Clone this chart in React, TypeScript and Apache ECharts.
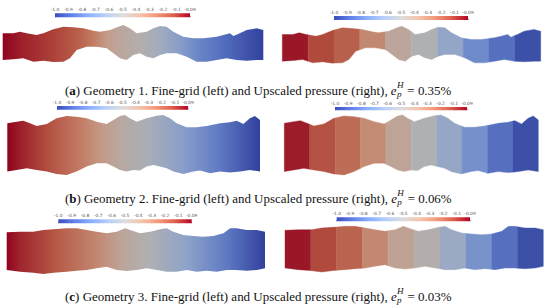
import React, { useEffect, useRef } from 'react';
import * as echarts from 'echarts';

// ---------- data ----------
const cbLabels = ['-1.0', '-0.9', '-0.8', '-0.7', '-0.6', '-0.5', '-0.4', '-0.3', '-0.2', '-0.1', '-0.09'];
const pMin = -1.0;
const pMax = -0.09;

// channel walls: [position along channel (0-10), wall height]
const geo1Top = [[0, 90], [0.41, 90], [0.66, 95], [0.92, 90], [1.3, 85], [1.56, 90], [1.94, 102], [2.33, 110], [2.71, 108], [3.09, 105], [3.48, 98], [3.73, 95], [4.12, 100], [4.44, 110], [4.63, 115], [4.88, 105], [5.14, 90], [5.52, 95], [5.78, 105], [6.04, 112], [6.29, 110], [6.55, 95], [6.93, 80], [7.31, 75], [7.7, 75], [8.21, 80], [8.47, 85], [8.72, 90], [8.85, 82], [9.1, 90], [9.36, 100], [9.74, 105], [10, 100]];
const geo1Bottom = [[0, 10], [0.41, 12], [0.79, 15], [1.18, 5], [1.56, 8], [1.94, 4], [2.33, 5], [2.58, 15], [2.84, 40], [3.22, 50], [3.61, 50], [3.99, 45], [4.25, 30], [4.5, 15], [4.76, 10], [5.01, 25], [5.27, 30], [5.52, 20], [5.78, 15], [6.04, 25], [6.29, 30], [6.68, 30], [7.06, 20], [7.44, 5], [7.83, 5], [8.21, 10], [8.59, 15], [8.98, 10], [9.36, 8], [9.74, 10], [10, 10]];

const geo2Top = [[0, 160], [0.37, 165], [0.63, 168], [0.9, 160], [1.16, 152], [1.56, 158], [1.95, 175], [2.35, 182], [2.74, 180], [3.14, 175], [3.54, 165], [3.93, 158], [4.2, 170], [4.46, 182], [4.66, 185], [4.85, 175], [5.12, 165], [5.51, 175], [5.91, 183], [6.17, 185], [6.44, 175], [6.7, 160], [7.1, 148], [7.49, 148], [7.89, 152], [8.42, 160], [8.81, 163], [9.08, 168], [9.34, 158], [9.6, 175], [9.8, 182], [10, 170]];
const geo2Bottom = [[0, 15], [0.37, 20], [0.77, 25], [1.16, 20], [1.56, 15], [1.95, 8], [2.35, 5], [2.74, 15], [3.14, 30], [3.54, 40], [3.93, 40], [4.2, 30], [4.46, 20], [4.72, 15], [4.99, 20], [5.25, 18], [5.51, 30], [5.78, 35], [6.04, 30], [6.31, 25], [6.57, 15], [6.97, 8], [7.36, 15], [7.63, 18], [8.02, 10], [8.42, 15], [8.81, 12], [9.21, 15], [9.6, 20], [10, 15]];

const geo3Top = [[0, 128], [0.52, 130], [1.03, 130], [1.42, 135], [1.81, 137], [2.32, 140], [2.71, 140], [3.1, 135], [3.48, 130], [3.87, 125], [4.26, 130], [4.58, 140], [4.77, 135], [5.16, 125], [5.55, 130], [5.94, 137], [6.19, 140], [6.45, 130], [6.84, 120], [7.23, 117], [7.61, 115], [8.0, 117], [8.39, 125], [8.65, 140], [8.9, 140], [9.29, 135], [9.68, 135], [10, 130]];
const geo3Bottom = [[0, 15], [0.52, 10], [1.03, 7], [1.42, 3], [1.81, 7], [2.32, 10], [2.71, 13], [3.1, 15], [3.48, 20], [3.87, 25], [4.26, 15], [4.65, 12], [5.03, 15], [5.42, 20], [5.81, 15], [6.19, 10], [6.58, 10], [6.97, 15], [7.35, 10], [7.74, 13], [8.13, 10], [8.52, 15], [8.9, 15], [9.29, 13], [9.68, 15], [10, 20]];

// fine-grid pressure samples: [position, pressure]
const fine1 = [[0, -0.09], [0.66, -0.13], [1.8, -0.18], [2.8, -0.24], [3.5, -0.32], [4.0, -0.43], [4.4, -0.48], [5.3, -0.53], [6.0, -0.6], [6.8, -0.7], [7.6, -0.8], [8.6, -0.88], [10, -0.99]];
const fine2 = [[0, -0.09], [0.5, -0.13], [1.7, -0.22], [3.0, -0.33], [3.7, -0.42], [4.5, -0.5], [5.6, -0.58], [7.0, -0.7], [8.3, -0.82], [10, -0.99]];
const fine3 = [[0, -0.09], [0.5, -0.14], [2.0, -0.24], [3.5, -0.36], [4.5, -0.48], [5.5, -0.55], [7.0, -0.68], [8.5, -0.83], [10, -0.99]];

// upscaled block pressures (10 blocks)
const blocks1 = [-0.12, -0.2, -0.25, -0.36, -0.48, -0.55, -0.66, -0.78, -0.86, -0.95];
const blocks2 = [-0.13, -0.22, -0.28, -0.37, -0.47, -0.55, -0.65, -0.76, -0.86, -0.95];
const blocks3 = [-0.12, -0.2, -0.26, -0.36, -0.46, -0.53, -0.63, -0.75, -0.86, -0.95];

const captionLetters = ['a', 'b', 'c'];
const captionGeometries = ['1', '2', '3'];
const captionErrors = ['0.35%', '0.06%', '0.03%'];

// ---------- colour map (ParaView cool to warm) ----------
const coolWarm: [number, number[]][] = [
  [0, [59, 76, 192]], [0.125, [98, 130, 234]], [0.25, [141, 176, 254]], [0.375, [184, 208, 249]],
  [0.5, [221, 221, 221]], [0.625, [245, 196, 173]], [0.75, [244, 154, 123]], [0.875, [222, 96, 77]], [1, [180, 4, 38]],
];
function cmapT(t: number, shade = 1) {
  t = Math.max(0, Math.min(1, t));
  let i = 0;
  while (i < coolWarm.length - 2 && t > coolWarm[i + 1][0]) i++;
  const [t0, c0] = coolWarm[i];
  const [t1, c1] = coolWarm[i + 1];
  const f = (t - t0) / (t1 - t0);
  const c = c0.map((v, k) => Math.round((v + (c1[k] - v) * f) * shade));
  return `rgb(${c[0]},${c[1]},${c[2]})`;
}
const cmap = (p: number, shade = 1) => cmapT((p - pMin) / (pMax - pMin), shade);
const SHADE = 0.8;

function interp(pts: number[][], u: number) {
  for (let i = 0; i < pts.length - 1; i++) {
    const [x0, y0] = pts[i];
    const [x1, y1] = pts[i + 1];
    if (u >= x0 && u <= x1) return y0 + ((y1 - y0) * (u - x0)) / (x1 - x0 || 1);
  }
  return pts[pts.length - 1][1];
}
function section(top: number[][], bot: number[][], u0: number, u1: number) {
  const t: number[][] = [[u0, interp(top, u0)]];
  top.forEach((p) => { if (p[0] > u0 && p[0] < u1) t.push(p); });
  t.push([u1, interp(top, u1)]);
  const b: number[][] = [[u0, interp(bot, u0)]];
  bot.forEach((p) => { if (p[0] > u0 && p[0] < u1) b.push(p); });
  b.push([u1, interp(bot, u1)]);
  return t.concat(b.reverse());
}

// ---------- layout ----------
const chanGrids = [
  { left: 2.7, top: 23.3, width: 260.6, height: 40, yMax: 120 },
  { left: 282.3, top: 24.5, width: 258.4, height: 40, yMax: 120 },
  { left: 7.3, top: 113.3, width: 252.7, height: 63.3, yMax: 190 },
  { left: 284.3, top: 113.3, width: 254, height: 63.3, yMax: 190 },
  { left: 6.7, top: 226.7, width: 258.3, height: 48.3, yMax: 145 },
  { left: 285, top: 224.7, width: 258.3, height: 48.3, yMax: 145 },
];
const cbGrids = [
  { left: 55, top: 13.3, width: 135, height: 4 },
  { left: 334, top: 16, width: 134, height: 4 },
  { left: 57, top: 106, width: 131, height: 3.7 },
  { left: 335, top: 107, width: 132, height: 3.2 },
  { left: 58.3, top: 219.3, width: 133.4, height: 4 },
  { left: 336.7, top: 217.3, width: 133.3, height: 4 },
];
const captionY = [90, 198, 296];
const captionLeft = 65;
const captionWidth = 387;
const SERIF = '"Liberation Serif", "Times New Roman", serif';

function buildCaption(letter: string, geo: string, err: string, y: number) {
  const ctx = document.createElement('canvas').getContext('2d')!;
  const segs = [
    { text: '(', style: 'normal', weight: 'normal' },
    { text: letter, style: 'normal', weight: 'bold' },
    { text: `) Geometry ${geo}. Fine-grid (left) and Upscaled pressure (right), `, style: 'normal', weight: 'normal' },
    { text: 'e', style: 'italic', weight: 'normal' },
  ];
  const tail = ` = ${err}`;
  const measure = (size: number) => {
    let w = 0;
    segs.forEach((s) => { ctx.font = `${s.style} ${s.weight} ${size}px ${SERIF}`; w += ctx.measureText(s.text).width; });
    ctx.font = `italic normal ${size * 0.7}px ${SERIF}`;
    w += ctx.measureText('H').width + 1;
    ctx.font = `normal normal ${size}px ${SERIF}`;
    w += ctx.measureText(tail).width;
    return w;
  };
  const size = (12 * captionWidth) / measure(12);
  const els: any[] = [];
  let x = captionLeft;
  const mk = (text: string, xx: number, yy: number, fs: number, st: string, wt: string) => ({
    type: 'text', x: xx, y: yy, silent: true,
    style: { text, fontSize: fs, fontFamily: SERIF, fontStyle: st, fontWeight: wt, fill: '#111', align: 'left', verticalAlign: 'middle', textAlign: 'left', textVerticalAlign: 'middle' },
  });
  segs.forEach((s) => {
    els.push(mk(s.text, x, y, size, s.style, s.weight));
    ctx.font = `${s.style} ${s.weight} ${size}px ${SERIF}`;
    x += ctx.measureText(s.text).width;
  });
  const small = size * 0.7;
  els.push(mk('p', x + 0.3, y + size * 0.3, small, 'italic', 'normal'));
  els.push(mk('H', x + 0.3, y - size * 0.42, small, 'italic', 'normal'));
  ctx.font = `italic normal ${small}px ${SERIF}`;
  x += ctx.measureText('H').width + 1;
  els.push(mk(tail, x, y, size, 'normal', 'normal'));
  return els;
}

export default function App() {
  const ref = useRef<HTMLDivElement>(null);
  useEffect(() => {
    document.body.style.margin = '0';
    const chart = echarts.init(ref.current!, undefined, { renderer: 'svg' });
    const geos = [[geo1Top, geo1Bottom], [geo2Top, geo2Bottom], [geo3Top, geo3Bottom]];
    const fines = [fine1, fine2, fine3];
    const blocks = [blocks1, blocks2, blocks3];

    const grid: any[] = [];
    const xAxis: any[] = [];
    const yAxis: any[] = [];
    const series: any[] = [];

    chanGrids.forEach((g, i) => {
      grid.push({ left: g.left, top: g.top, width: g.width, height: g.height, containLabel: false });
      xAxis.push({ type: 'value', gridIndex: i, min: 0, max: 10, show: false });
      yAxis.push({ type: 'value', gridIndex: i, min: 0, max: g.yMax, show: false });
      const row = Math.floor(i / 2);
      const [top, bot] = geos[row];
      if (i % 2 === 0) {
        const stops = fines[row].map(([u, p]) => ({ offset: u / 10, color: cmap(p, SHADE) }));
        series.push({
          type: 'custom', xAxisIndex: i, yAxisIndex: i, clip: false, silent: true,
          data: [[5, g.yMax / 2]],
          renderItem: (_params: any, api: any) => ({
            type: 'polygon',
            shape: { points: section(top, bot, 0, 10).map((p) => api.coord(p)) },
            style: { fill: new echarts.graphic.LinearGradient(0, 0, 1, 0, stops) },
          }),
        });
      } else {
        series.push({
          type: 'custom', xAxisIndex: i, yAxisIndex: i, clip: false, silent: true,
          data: blocks[row].map((p, k) => [k, p]),
          renderItem: (_params: any, api: any) => {
            const k = api.value(0);
            const p = api.value(1);
            const c = cmap(p, SHADE);
            return {
              type: 'polygon',
              shape: { points: section(top, bot, k, k + 1).map((q) => api.coord(q)) },
              style: { fill: c, stroke: c, lineWidth: 0.4 },
            };
          },
        });
      }
    });

    const cbStops = coolWarm.map(([t]) => ({ offset: t, color: cmapT(t) }));
    cbGrids.forEach((g, j) => {
      const i = j + chanGrids.length;
      grid.push({ left: g.left, top: g.top, width: g.width, height: g.height, containLabel: false });
      xAxis.push({
        type: 'category', gridIndex: i, data: cbLabels, boundaryGap: false, position: 'top',
        axisLine: { show: false },
        axisTick: { show: true, inside: false, length: 1.5, lineStyle: { color: '#666', width: 0.5 } },
        axisLabel: { interval: 0, fontSize: 4.4, color: '#555', margin: 1.5, fontFamily: 'DejaVu Sans' },
        splitLine: { show: false },
      });
      yAxis.push({ type: 'value', gridIndex: i, min: 0, max: 1, show: false });
      series.push({
        type: 'custom', xAxisIndex: i, yAxisIndex: i, clip: false, silent: true,
        data: [[0, 0.5]],
        renderItem: (params: any) => {
          const cs = params.coordSys;
          return {
            type: 'rect',
            shape: { x: cs.x, y: cs.y, width: cs.width, height: cs.height },
            style: { fill: new echarts.graphic.LinearGradient(0, 0, 1, 0, cbStops) },
          };
        },
      });
    });

    const graphic: any[] = [];
    captionLetters.forEach((l, r) => {
      buildCaption(l, captionGeometries[r], captionErrors[r], captionY[r]).forEach((e) => graphic.push(e));
    });

    chart.setOption({
      animation: false,
      backgroundColor: '#fff',
      grid, xAxis, yAxis, series, graphic,
    });
    return () => chart.dispose();
  }, []);
  return <div ref={ref} style={{ position: 'fixed', left: 0, top: 0, width: 550, height: 307, background: '#fff' }} />;
}
